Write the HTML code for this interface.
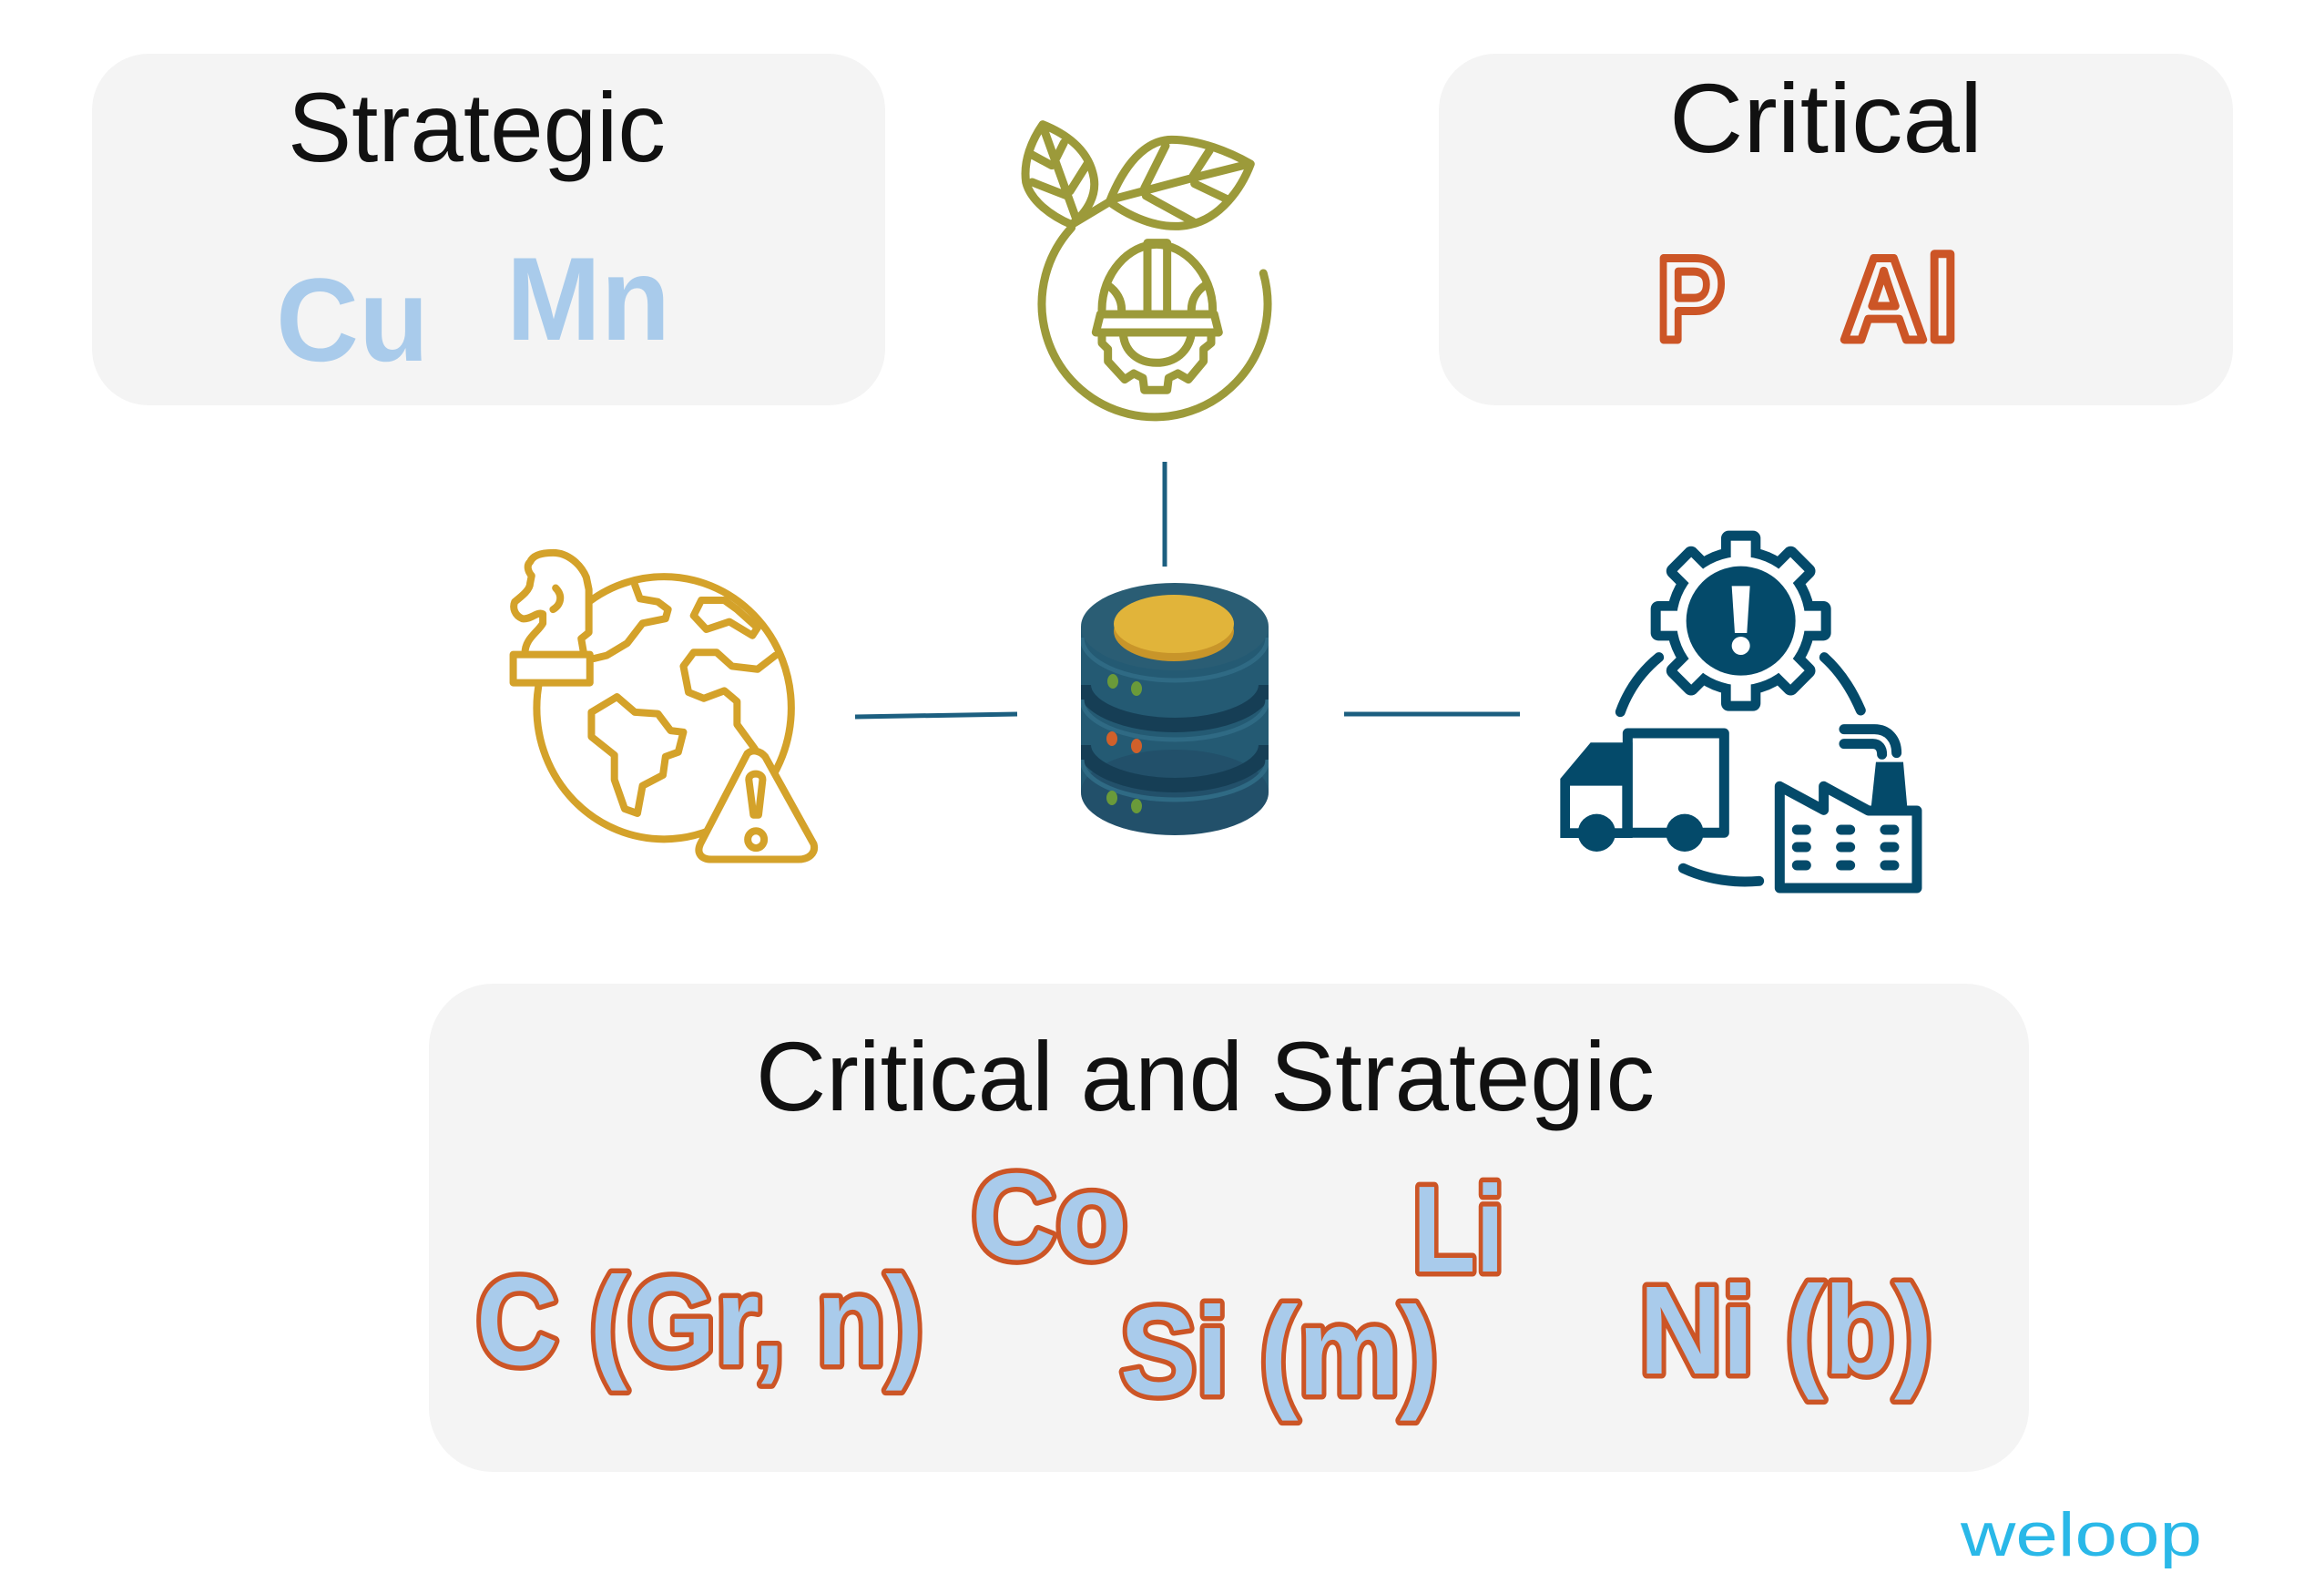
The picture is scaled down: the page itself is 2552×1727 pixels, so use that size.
<!DOCTYPE html>
<html><head><meta charset="utf-8"><style>
html,body{margin:0;padding:0;background:#fff;}
svg{display:block;}
</style></head><body>
<svg width="2552" height="1727" viewBox="0 0 2552 1727" xmlns="http://www.w3.org/2000/svg">
<defs><clipPath id="dbc"><rect x="1187" y="600" width="206" height="340"/></clipPath></defs>
<!-- boxes -->
<rect x="101" y="59" width="871" height="386" rx="62" fill="#f4f4f4"/>
<rect x="1580" y="59" width="872" height="386" rx="62" fill="#f4f4f4"/>
<rect x="471" y="1080" width="1757" height="536" rx="70" fill="#f4f4f4"/>

<g font-family="Liberation Sans, sans-serif">
<text x="316" y="177" font-size="108" textLength="415" lengthAdjust="spacingAndGlyphs" fill="#111">Strategic</text>
<text x="1833" y="167" font-size="108" textLength="344" lengthAdjust="spacingAndGlyphs" fill="#111">Critical</text>
<text x="830" y="1219" font-size="108" textLength="987" lengthAdjust="spacingAndGlyphs" fill="#111">Critical and Strategic</text>

<g font-weight="bold" fill="#a9cbeb">
<text x="303" y="396" font-size="130" textLength="168" lengthAdjust="spacingAndGlyphs">Cu</text>
<text x="556" y="373" font-size="130" textLength="180" lengthAdjust="spacingAndGlyphs">Mn</text>
</g>
<g font-weight="bold" fill="#f6f6f6" stroke="#cc5526" stroke-width="9" stroke-linejoin="round">
<text x="1819" y="373" font-size="130" textLength="75" lengthAdjust="spacingAndGlyphs">P</text>
<text x="2022" y="373" font-size="130" textLength="129" lengthAdjust="spacingAndGlyphs">Al</text>
</g>
<g font-weight="bold" fill="#a9cbeb" stroke="#cc5526" stroke-width="11" stroke-linejoin="round" paint-order="stroke">
<text x="1067" y="1382" font-size="135" textLength="171" lengthAdjust="spacingAndGlyphs">Co</text>
<text x="1551" y="1396" font-size="135" textLength="101" lengthAdjust="spacingAndGlyphs">Li</text>
<text x="523" y="1498" font-size="138" textLength="491" lengthAdjust="spacingAndGlyphs">C (Gr, n)</text>
<text x="1230" y="1531" font-size="138" textLength="349" lengthAdjust="spacingAndGlyphs">Si (m)</text>
<text x="1800" y="1508" font-size="138" textLength="322" lengthAdjust="spacingAndGlyphs">Ni (b)</text>
</g>
<text x="2153" y="1708" font-size="68" textLength="265" lengthAdjust="spacingAndGlyphs" fill="#2ab8e8">weloop</text>
</g>

<!-- connectors -->
<g stroke="#1c5f80" stroke-width="5">
<line x1="1279" y1="507" x2="1279" y2="622"/>
<line x1="939" y1="787" x2="1117" y2="784"/>
<line x1="1476" y1="784" x2="1669" y2="784"/>
</g>

<!-- eco icon -->
<g transform="translate(1100,100) scale(0.3333)" fill="none" stroke="#9c9a3a" stroke-width="27" stroke-linecap="round" stroke-linejoin="round">
<path d="M230 450 A372 372 0 1 0 862 600"/>
<path d="M135 110 C100 160 70 230 80 300 C95 360 160 410 230 440 C280 400 320 340 300 270 C280 190 210 140 135 110 Z"/>
<path d="M135 115 L245 420 M100 210 L165 245 M100 300 L215 345 M205 170 L180 220 M285 235 L225 330"/>
<path d="M230 440 L355 365"/>
<path d="M355 365 C400 250 470 160 560 160 C650 160 750 200 820 240 C790 320 720 420 620 440 C530 460 430 420 355 365 Z"/>
<path d="M370 355 L615 290 L815 240 M540 180 L470 320 M685 195 L630 280 M475 345 L630 430 M635 305 L740 355"/>
<path d="M330 720 C330 600 420 505 510 505 C600 505 695 600 695 720"/>
<path d="M480 725 L480 500 L545 500 L545 725"/>
<path d="M350 640 C380 660 395 690 395 720 M670 640 C640 660 625 690 625 720"/>
<path d="M325 735 L700 735 L715 795 L310 795 Z"/>
<path d="M400 800 C405 860 450 895 510 895 C570 895 615 860 625 800"/>
<path d="M330 805 L330 830 L350 850 L350 890 L405 950 L435 930 L465 945 L470 985 L545 985 L550 945 L580 930 L615 950 L665 890 L665 850 L690 830 L690 805"/>
</g>

<!-- globe icon -->
<g transform="translate(540,590) scale(0.5612,0.3367)" fill="none" stroke="#d4a22a" stroke-width="8" stroke-linejoin="round" stroke-linecap="round">
<ellipse cx="337" cy="556" rx="249" ry="428" vector-effect="non-scaling-stroke"/>
<path vector-effect="non-scaling-stroke" d="M280 155 L290 200 L325 210 L345 235 L340 265 L295 280 L265 345 L225 385 L200 395"/>
<path vector-effect="non-scaling-stroke" d="M410 205 L395 255 L420 300 L465 275 L510 320 L520 295 L480 235 L455 205 Z"/>
<path vector-effect="non-scaling-stroke" d="M555 385 L520 430 L470 420 L440 375 L395 375 L375 420 L385 505 L415 525 L455 500 L480 535 L480 610 L515 690"/>
<path vector-effect="non-scaling-stroke" d="M245 520 L195 570 L195 650 L240 710 L240 790 L260 885 L285 900 L295 810 L335 775 L340 715 L365 700 L375 635 L350 630 L325 575 L280 570 Z"/>
<path vector-effect="non-scaling-stroke" fill="#fff" d="M65 378 C65 330 90 310 100 280 L100 250 C90 240 75 270 60 265 C45 255 40 230 45 210 C60 190 75 170 75 150 L78 125 C70 110 68 90 75 80 C80 60 95 50 120 50 C150 50 175 90 185 130 L190 170 L190 310 L175 330 L180 378"/>
<path vector-effect="non-scaling-stroke" d="M125 165 C140 190 135 220 120 235"/>
<rect vector-effect="non-scaling-stroke" x="42" y="382" width="150" height="92" fill="#fff"/>
<path vector-effect="non-scaling-stroke" fill="#fff" d="M500 705 C510 690 525 695 535 715 L630 1000 C635 1030 620 1050 600 1050 L430 1050 C410 1050 400 1030 408 1000 Z"/>
<path vector-effect="non-scaling-stroke" d="M503 790 L512 905 L522 905 L530 790 C530 765 503 765 503 790 Z"/>
<ellipse vector-effect="non-scaling-stroke" cx="517" cy="985" rx="16" ry="28"/>
</g>

<!-- database -->
<g>
<rect x="1187" y="688" width="206" height="182" fill="#245a73"/>
<ellipse cx="1290" cy="870" rx="103" ry="47" fill="#22506a"/>
<g clip-path="url(#dbc)" fill="none">
<path d="M1190 752 A100 44 0 0 0 1390 752" stroke="#163e55" stroke-width="16"/>
<path d="M1188 768 A102 44 0 0 0 1392 768" stroke="#2f6a84" stroke-width="5"/>
<path d="M1190 818 A100 44 0 0 0 1390 818" stroke="#163e55" stroke-width="16"/>
<path d="M1188 834 A102 44 0 0 0 1392 834" stroke="#2f6a84" stroke-width="5"/>
<path d="M1188 700 A102 47 0 0 0 1392 700" stroke="#2f6a84" stroke-width="5"/>
</g>
<ellipse cx="1290" cy="688" rx="103" ry="48" fill="#2a5d74"/>
<ellipse cx="1289" cy="693" rx="66" ry="33" fill="#c8952a"/>
<ellipse cx="1289" cy="685" rx="66" ry="32" fill="#e1b43a"/>
<g fill="#6a9a3a"><ellipse cx="1222" cy="748" rx="6" ry="8"/><ellipse cx="1248" cy="756" rx="6" ry="8"/><ellipse cx="1221" cy="876" rx="6" ry="8"/><ellipse cx="1248" cy="885" rx="6" ry="8"/></g>
<g fill="#d0602a"><ellipse cx="1221" cy="811" rx="6" ry="8"/><ellipse cx="1248" cy="819" rx="6" ry="8"/></g>
</g>

<!-- supply chain icon -->
<g transform="translate(1700,560) scale(0.3333)">
<g fill="#044a6a">
<circle cx="635" cy="365" r="245"/>
<g id="t"><rect x="570" y="68" width="130" height="140" rx="25"/></g>
<use href="#t" transform="rotate(45 635 365)"/><use href="#t" transform="rotate(90 635 365)"/><use href="#t" transform="rotate(135 635 365)"/>
<use href="#t" transform="rotate(180 635 365)"/><use href="#t" transform="rotate(225 635 365)"/><use href="#t" transform="rotate(270 635 365)"/><use href="#t" transform="rotate(315 635 365)"/>
</g>
<g fill="#fff">
<circle cx="635" cy="365" r="212"/>
<g id="w"><rect x="602" y="101" width="66" height="110"/></g>
<use href="#w" transform="rotate(45 635 365)"/><use href="#w" transform="rotate(90 635 365)"/><use href="#w" transform="rotate(135 635 365)"/>
<use href="#w" transform="rotate(180 635 365)"/><use href="#w" transform="rotate(225 635 365)"/><use href="#w" transform="rotate(270 635 365)"/><use href="#w" transform="rotate(315 635 365)"/>
</g>
<circle cx="635" cy="365" r="180" fill="#044a6a"/>
<path d="M605 250 L665 250 L655 405 L615 405 Z" fill="#fff"/>
<circle cx="635" cy="447" r="30" fill="#fff"/>
<g fill="none" stroke="#044a6a" stroke-width="33" stroke-linecap="round" stroke-linejoin="round">
<path d="M238 665 C265 590 310 530 365 485"/>
<path d="M910 485 C960 530 1000 590 1030 660"/>
<path d="M445 1180 C520 1215 600 1230 695 1222"/>
<path d="M262 735 L580 735 L580 1063 L262 1063 Z"/>
<path d="M763 910 L908 988 L908 910 L1055 990 L1215 990 L1215 1245 L763 1245 Z"/>
<path d="M975 722 L1075 722 C1120 722 1148 755 1148 800 M975 770 L1070 770 C1090 770 1100 785 1100 805"/>
<path d="M820 1053 L850 1053 M965 1053 L995 1053 M1110 1053 L1140 1053 M820 1110 L850 1110 M965 1110 L995 1110 M1110 1110 L1140 1110 M820 1170 L850 1170 M965 1170 L995 1170 M1110 1170 L1140 1170"/>
</g>
<g fill="#044a6a">
<path d="M40 885 L140 766 L278 766 L278 1080 L40 1080 Z"/>
<path d="M1080 830 L1170 830 L1185 1000 L1062 1000 Z"/>
</g>
<rect x="72" y="908" width="172" height="140" fill="#fff"/>
<g fill="#044a6a"><circle cx="160" cy="1063" r="62"/><circle cx="450" cy="1063" r="62"/></g>
</g>
</svg>
</body></html>
